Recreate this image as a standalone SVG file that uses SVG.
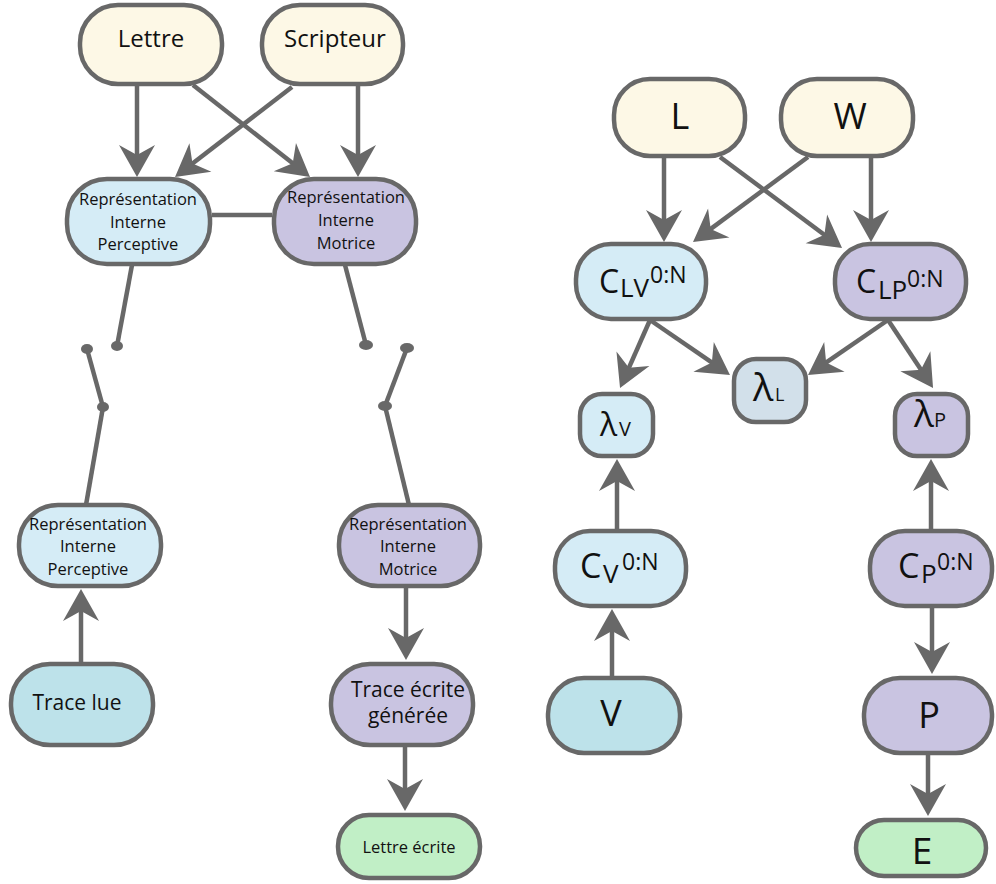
<svg xmlns="http://www.w3.org/2000/svg" width="996" height="884" viewBox="0 0 996 884">
<style>
.n{stroke:#686868;stroke-width:4.5}
.y{fill:#FDF8E6}.b{fill:#D5ECF6}.p{fill:#C9C4E1}.t{fill:#BDE2EA}.g{fill:#C1EFC6}.l{fill:#D2E0EA}
text{font-family:"Open Sans","Noto Sans",sans-serif;fill:#111}
.c{text-anchor:middle}
.e line,.e path{stroke:#686868;stroke-width:4.5;fill:none}
.a{marker-end:url(#ah)}
.d{fill:#686868}
</style>
<defs>
<marker id="ah" markerUnits="userSpaceOnUse" markerWidth="40" markerHeight="40" viewBox="-14 -20 36 40" refX="0" refY="0" orient="auto" overflow="visible">
<path d="M20,0 L-12,-18 L-2,0 L-12,18 Z" fill="#686868"/>
</marker>
</defs>
<g id="connectors" class="e">
<line x1="212" y1="215" x2="272" y2="215"/>
<line class="a" x1="137" y1="85" x2="137" y2="157"/>
<line class="a" x1="292" y1="87" x2="190.9" y2="164.8"/>
<line class="a" x1="193" y1="85" x2="294.3" y2="164.6"/>
<line class="a" x1="358" y1="85" x2="358" y2="157"/>
<line x1="132" y1="265" x2="117" y2="346"/>
<line x1="87" y1="349" x2="103" y2="407"/>
<line x1="103" y1="407" x2="86" y2="505"/>
<line x1="345" y1="265" x2="366" y2="345"/>
<line x1="407" y1="348" x2="385" y2="406"/>
<line x1="385" y1="406" x2="409" y2="505"/>
<ellipse class="d" cx="117" cy="346" rx="6" ry="5"/>
<ellipse class="d" cx="87" cy="349" rx="6" ry="5"/>
<ellipse class="d" cx="103" cy="407" rx="6" ry="5"/>
<ellipse class="d" cx="366" cy="345" rx="7" ry="5"/>
<ellipse class="d" cx="407" cy="348" rx="7" ry="5"/>
<ellipse class="d" cx="385" cy="406" rx="7" ry="5"/>
<line class="a" x1="81" y1="664" x2="81" y2="609"/>
<line class="a" x1="406" y1="587" x2="406" y2="640"/>
<line class="a" x1="405" y1="746" x2="405" y2="791"/>
<line class="a" x1="664" y1="157" x2="664" y2="222"/>
<line class="a" x1="808" y1="157" x2="709.1" y2="230.1"/>
<line class="a" x1="720" y1="157" x2="826" y2="236"/>
<line class="a" x1="871" y1="157" x2="871" y2="222"/>
<line class="a" x1="650" y1="320" x2="628.1" y2="369.7"/>
<line class="a" x1="650" y1="320" x2="713.5" y2="363.7"/>
<line class="a" x1="888" y1="320" x2="824.5" y2="363.7"/>
<line class="a" x1="888" y1="320" x2="922" y2="371.3"/>
<line class="a" x1="617" y1="531" x2="617" y2="479"/>
<line class="a" x1="931" y1="531" x2="931" y2="479"/>
<line class="a" x1="612" y1="678" x2="612" y2="629"/>
<line class="a" x1="932" y1="607" x2="932" y2="654"/>
<line class="a" x1="928" y1="754" x2="928" y2="796"/>
</g>
<g id="lettre"><rect class="n y" x="80" y="5" width="142" height="79" rx="38"/><text class="c" x="151" y="47" font-size="24">Lettre</text></g>
<g id="scripteur"><rect class="n y" x="262" y="5" width="141" height="79" rx="38"/><text class="c" x="335" y="47" font-size="24">Scripteur</text></g>
<g id="rip1"><rect class="n b" x="67" y="179" width="143" height="85" rx="40"/><text class="c" font-size="16.5"><tspan x="138" y="205">Représentation</tspan><tspan x="138" y="228">Interne</tspan><tspan x="138" y="250">Perceptive</tspan></text></g>
<g id="rim1"><rect class="n p" x="274" y="179" width="142" height="85" rx="40"/><text class="c" font-size="16.5"><tspan x="346" y="203">Représentation</tspan><tspan x="346" y="226">Interne</tspan><tspan x="346" y="249">Motrice</tspan></text></g>
<g id="rip2"><rect class="n b" x="19" y="505" width="142" height="81" rx="39"/><text class="c" font-size="16.5"><tspan x="88" y="530">Représentation</tspan><tspan x="88" y="552">Interne</tspan><tspan x="88" y="575">Perceptive</tspan></text></g>
<g id="rim2"><rect class="n p" x="339" y="505" width="141" height="81" rx="39"/><text class="c" font-size="16.5"><tspan x="408" y="530">Représentation</tspan><tspan x="408" y="552">Interne</tspan><tspan x="408" y="575">Motrice</tspan></text></g>
<g id="tracelue"><rect class="n t" x="11" y="664" width="142" height="81" rx="39"/><text class="c" x="77" y="710" font-size="21">Trace lue</text></g>
<g id="traceecrite"><rect class="n p" x="331" y="664" width="142" height="81" rx="39"/><text class="c" font-size="21"><tspan x="408" y="697">Trace écrite</tspan><tspan x="408" y="723">générée</tspan></text></g>
<g id="lettreecrite"><rect class="n g" x="338" y="815" width="142" height="63" rx="31"/><text class="c" x="409" y="853" font-size="16.5">Lettre écrite</text></g>
<g id="L"><rect class="n y" x="614" y="79" width="131" height="77" rx="36"/><text class="c" x="680" y="129" font-size="36">L</text></g>
<g id="W"><rect class="n y" x="781" y="79" width="132" height="77" rx="36"/><text class="c" x="850" y="129" font-size="36">W</text></g>
<g id="CLV"><rect class="n b" x="576" y="244" width="130" height="75" rx="35"/><text><tspan x="599" y="293" font-size="32">C</tspan><tspan x="620" y="297" font-size="26">LV</tspan><tspan x="650" y="283" font-size="23">0:N</tspan></text></g>
<g id="CLP"><rect class="n p" x="835" y="244" width="131" height="75" rx="35"/><text><tspan x="856" y="293" font-size="32">C</tspan><tspan x="878" y="299" font-size="26">LP</tspan><tspan x="907" y="287" font-size="23">0:N</tspan></text></g>
<g id="lambdaL"><rect class="n l" x="734" y="359" width="72" height="63" rx="22"/><text><tspan x="753" y="401" font-size="38">λ</tspan><tspan x="775" y="401" font-size="18">L</tspan></text></g>
<g id="lambdaV"><rect class="n b" x="580" y="394" width="73" height="62" rx="22"/><text><tspan x="600" y="436" font-size="32">λ</tspan><tspan x="619" y="436" font-size="20">V</tspan></text></g>
<g id="lambdaP"><rect class="n p" x="895" y="394" width="73" height="62" rx="22"/><text><tspan x="914" y="427" font-size="37">λ</tspan><tspan x="934" y="427" font-size="20">P</tspan></text></g>
<g id="CV"><rect class="n b" x="555" y="531" width="131" height="75" rx="35"/><text><tspan x="580" y="578" font-size="34">C</tspan><tspan x="603" y="583" font-size="26">V</tspan><tspan x="622" y="570" font-size="23">0:N</tspan></text></g>
<g id="CP"><rect class="n p" x="870" y="531" width="122" height="75" rx="35"/><text><tspan x="898" y="578" font-size="34">C</tspan><tspan x="921" y="583" font-size="26">P</tspan><tspan x="937" y="570" font-size="23">0:N</tspan></text></g>
<g id="V"><rect class="n t" x="548" y="678" width="132" height="75" rx="36"/><text class="c" x="611" y="726" font-size="36">V</text></g>
<g id="P"><rect class="n p" x="864" y="678" width="128" height="75" rx="36"/><text class="c" x="929" y="728" font-size="36">P</text></g>
<g id="E"><rect class="n g" x="856" y="820" width="130" height="56" rx="28"/><text class="c" x="922" y="864" font-size="37">E</text></g>
</svg>
